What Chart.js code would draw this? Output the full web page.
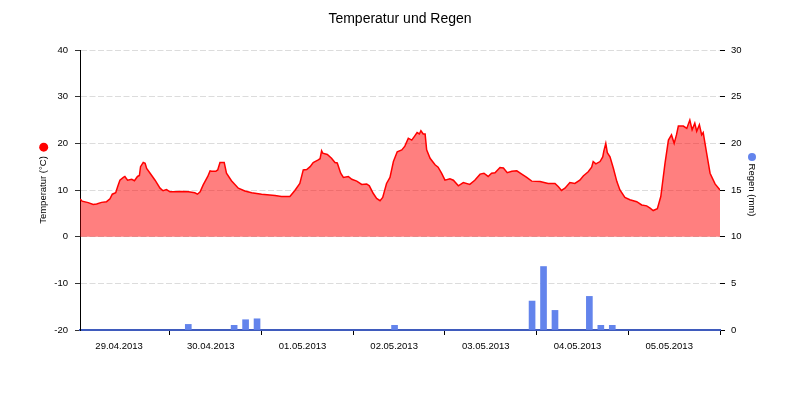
<!DOCTYPE html>
<html><head><meta charset="utf-8">
<script src="https://cdn.jsdelivr.net/npm/chart.js@4/dist/chart.umd.min.js"></script>
<style>html,body{margin:0;padding:0;background:#fff}#wrap{width:800px;height:400px}</style>
</head><body><div id="wrap"><canvas id="c" width="800" height="400"></canvas></div>
<script>
// ---- data (hours since 29.04.2013 00:00) ----
const TITLE = 'Temperatur und Regen';
const DAY_LABELS = ['29.04.2013','30.04.2013','01.05.2013','02.05.2013','03.05.2013','04.05.2013','05.05.2013'];
const TEMP_AXIS_TITLE = 'Temperatur (°C)';
const RAIN_AXIS_TITLE = 'Regen (mm)';
const TEMP_HOURS = [0.5,1.0,2.6,3.9,4.8,6.1,7.4,8.3,8.9,9.8,10.3,10.9,11.8,12.2,12.9,14.0,14.7,15.5,16.0,16.3,17.0,17.5,17.9,18.8,20.1,21.4,22.2,23.1,24.0,25.3,27.1,28.8,30.5,31.2,31.9,32.7,33.9,34.5,34.9,36.0,36.5,37.1,38.2,38.8,40.1,41.9,43.6,45.4,48.0,51.5,53.2,55.4,56.7,58.0,58.9,59.8,60.7,61.5,62.7,63.3,63.7,64.0,65.2,66.3,67.2,67.8,68.7,69.4,70.7,71.6,72.9,74.2,75.5,76.2,77.2,78.1,79.0,79.7,80.7,81.6,82.5,83.5,84.7,85.5,86.4,87.3,88.1,88.7,89.3,89.7,90.3,90.8,91.2,92.1,93.4,94.2,95.1,96.0,97.3,98.2,99.5,100.8,102.5,103.8,105.2,106.2,107.3,108.2,109.1,110.4,111.3,112.3,113.5,114.8,116.1,117.4,118.7,120.9,123.0,124.8,125.7,126.5,127.4,128.7,130.0,131.3,132.2,133.5,134.4,134.8,135.5,136.6,137.3,137.6,138.1,138.5,139.2,140.1,141.0,141.8,143.1,144.4,146.2,147.5,148.8,149.7,150.5,151.6,152.5,153.6,154.5,155.3,156.0,156.6,157.1,158.4,159.3,160.1,160.7,161.4,161.9,162.6,163.2,163.6,164.5,165.4,166.7,168.0];
const TEMP_VALUES = [8.1,7.6,7.3,6.9,7.0,7.35,7.5,8.1,9.1,9.4,10.7,12.1,12.7,12.9,12.1,12.3,12.0,12.9,13.1,15.0,15.9,15.7,14.6,13.6,12.1,10.4,9.85,10.1,9.6,9.6,9.7,9.6,9.4,9.1,9.6,11.1,12.9,14.1,14.0,14.0,14.3,15.9,15.9,13.6,12.0,10.4,9.8,9.4,9.1,8.8,8.6,8.6,9.9,11.4,14.3,14.4,15.0,15.9,16.4,16.7,18.4,17.9,17.6,16.8,15.9,15.8,13.6,12.7,12.9,12.3,11.9,11.2,11.3,10.9,9.3,8.2,7.7,8.4,11.4,12.7,16.1,18.2,18.6,19.4,21.1,20.7,21.6,22.3,22.0,22.7,22.0,22.0,18.6,16.8,15.4,14.9,13.6,12.1,12.4,12.1,10.9,11.6,11.2,12.1,13.4,13.6,12.9,13.6,13.7,14.8,14.7,13.7,14.0,14.1,13.4,12.7,11.9,11.8,11.4,11.4,10.7,9.9,10.4,11.6,11.4,12.1,13.0,13.9,14.9,16.1,15.6,16.1,17.1,18.4,20.0,18.0,17.1,14.6,11.8,10.0,8.4,7.9,7.5,6.8,6.6,6.1,5.6,6.0,8.6,15.7,20.7,21.8,20.0,21.8,23.7,23.7,23.2,25.0,22.9,24.3,22.6,24.0,21.8,22.3,17.9,13.6,11.3,10.0];
const RAIN_HOURS = [28.8,40.8,43.8,46.8,82.8,118.8,121.8,124.8,133.8,136.8,139.8];
const RAIN_VALUES = [0.6,0.5,1.1,1.2,0.5,3.1,6.8,2.1,3.6,0.5,0.5];
const X_RANGE = [0.45, 168];
const TEMP_RANGE = [-20, 40, 10];
const RAIN_RANGE = [0, 30, 5];

// ---- styling ----
const FONT = '"Liberation Sans", Arial, sans-serif';
const AX_FONT = 9.5;
const RED = '#ff0000';
const BLUE = '#6384ec';

const tempData = TEMP_HOURS.map((h, i) => ({x: h, y: TEMP_VALUES[i]}));
const rainData = RAIN_HOURS.map((h, i) => ({x: h, y: RAIN_VALUES[i]}));

const L_TITLE_PAD = 38, R_TITLE_PAD = 42.3;

const dotPlugin = {
  id: 'axisDots',
  afterDraw(chart) {
    const ctx = chart.ctx;
    const lh = AX_FONT * 1.2;
    const ca = chart.chartArea;
    const midY = (ca.top + ca.bottom) / 2;
    ctx.save();
    ctx.font = AX_FONT + 'px ' + FONT;
    const yl = chart.scales.y, yr = chart.scales.y2;
    const wl = ctx.measureText(TEMP_AXIS_TITLE).width;
    const wr = ctx.measureText(RAIN_AXIS_TITLE).width;
    ctx.fillStyle = RED;
    ctx.beginPath();
    ctx.arc(yl.left + lh / 2 + L_TITLE_PAD, midY - wl / 2 - 9, 4.5, 0, Math.PI * 2);
    ctx.fill();
    ctx.fillStyle = BLUE;
    ctx.beginPath();
    ctx.arc(yr.right - lh / 2 - R_TITLE_PAD, midY - wr / 2 - 6.5, 4, 0, Math.PI * 2);
    ctx.fill();
    ctx.restore();
  }
};

Chart.defaults.font.family = FONT;
Chart.defaults.font.size = AX_FONT;
Chart.defaults.color = '#000';

new Chart(document.getElementById('c'), {
  type: 'line',
  data: {
    datasets: [
      {
        type: 'line', label: 'Temperatur', data: tempData, yAxisID: 'y', xAxisID: 'x',
        borderColor: RED, borderWidth: 1.5, backgroundColor: 'rgba(255,0,0,0.5)',
        fill: 'origin', pointRadius: 0, tension: 0, order: 2
      },
      {
        type: 'bar', label: 'Regen', data: rainData, yAxisID: 'y2', xAxisID: 'x',
        backgroundColor: BLUE, borderWidth: 0, barThickness: 6, order: 1
      }
    ]
  },
  options: {
    responsive: false, animation: false, devicePixelRatio: 1,
    layout: {padding: 0},
    plugins: {
      legend: {display: false}, tooltip: {enabled: false},
      title: {display: true, text: TITLE, color: '#000',
        font: {size: 14, weight: 'normal', family: FONT}, padding: {top: 11, bottom: 22.2}}
    },
    scales: {
      x: {
        type: 'linear', position: 'bottom', min: X_RANGE[0], max: X_RANGE[1], offset: false,
        afterFit: s => { s.height = 70; },
        afterBuildTicks: s => {
          const t = [];
          for (let h = 12; h <= X_RANGE[1]; h += 12) t.push({value: h});
          s.ticks = t;
        },
        ticks: {
          autoSkip: false, maxRotation: 0, padding: 6, labelOffset: -5,
          callback: v => (v % 24 === 12 ? DAY_LABELS[(v - 12) / 24] : '')
        },
        grid: {drawOnChartArea: false, drawTicks: true, tickLength: 5, offset: false,
          tickColor: c => (c.tick && c.tick.value % 24 === 0 ? '#000' : 'rgba(0,0,0,0)')},
        border: {display: true, color: '#3f5bbd', width: 2}
      },
      y: {
        type: 'linear', position: 'left', min: TEMP_RANGE[0], max: TEMP_RANGE[1],
        afterFit: s => { s.width = 80; },
        ticks: {stepSize: TEMP_RANGE[2], padding: 7, callback: v => String(v)},
        grid: {color: c => (c.tick && c.tick.value === TEMP_RANGE[0] ? 'rgba(0,0,0,0)' : '#dcdcdc'),
          tickColor: '#333', tickLength: 5, tickBorderDash: [], offset: false},
        border: {display: true, color: '#000', width: 1, dash: [6, 2.5]},
        title: {display: true, text: TEMP_AXIS_TITLE, color: '#000', font: {size: AX_FONT},
          padding: {top: L_TITLE_PAD, bottom: 0}}
      },
      y2: {
        type: 'linear', position: 'right', min: RAIN_RANGE[0], max: RAIN_RANGE[1],
        afterFit: s => { s.width = 80; },
        ticks: {stepSize: RAIN_RANGE[2], padding: 6, callback: v => String(v)},
        grid: {drawOnChartArea: false, tickColor: '#000', tickLength: 5, offset: false},
        border: {display: false},
        title: {display: true, text: RAIN_AXIS_TITLE, color: '#000', font: {size: AX_FONT},
          padding: {top: R_TITLE_PAD, bottom: 0}}
      }
    }
  },
  plugins: [dotPlugin]
});
</script>
</body></html>
